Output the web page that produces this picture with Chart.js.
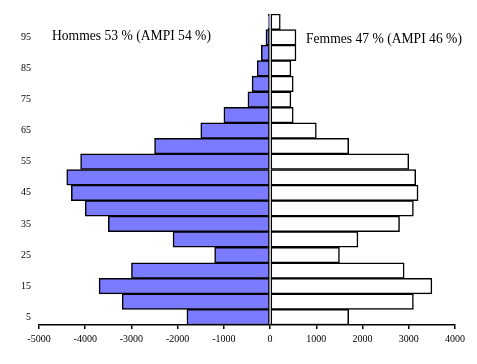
<!DOCTYPE html>
<html>
<head>
<meta charset="utf-8">
<script src="https://cdn.jsdelivr.net/npm/chart.js@4"></script>
<style>
  html, body { margin: 0; padding: 0; background: #fff; }
  #wrap { position: relative; width: 477px; height: 364px; }
</style>
</head>
<body>
<div id="wrap"><canvas id="myChart" width="477" height="364"></canvas></div>
<script>
// age groups, bottom to top
const ages = ['5', '10', '15', '20', '25', '30', '35', '40', '45', '50',
              '55', '60', '65', '70', '75', '80', '85', '90', '95', '100'];
const hommes = [-1800, -3200, -3700, -3000, -1200, -2100, -3500, -4000, -4300, -4400,
                -4100, -2500, -1500, -1000, -480, -390, -280, -190, -90, -40];
const femmes = [1700, 3100, 3500, 2900, 1500, 1900, 2800, 3100, 3200, 3150,
                3000, 1700, 1000, 500, 450, 500, 450, 560, 560, 220];
const xTicks = [-5000, -4000, -3000, -2000, -1000, 0, 1000, 2000, 3000, 4000];
const labelHommes = 'Hommes 53 % (AMPI 54 %)';
const labelFemmes = 'Femmes 47 % (AMPI 46 %)';

const legendText = {
  id: 'legendText',
  afterDraw(chart) {
    const c = chart.ctx;
    c.save();
    c.fillStyle = '#000';
    c.font = '13.6px "Liberation Serif", "Times New Roman", serif';
    c.textBaseline = 'alphabetic';
    c.fillText(labelHommes, 52, 40);
    c.fillText(labelFemmes, 306, 43);
    c.restore();
  }
};

const ctx = document.getElementById('myChart');
new Chart(ctx, {
  type: 'bar',
  data: {
    labels: ages,
    datasets: [
      {
        label: 'Hommes',
        data: hommes,
        backgroundColor: '#7b7bff',
        borderColor: '#000',
        borderWidth: 1.5,
        borderSkipped: false,
        categoryPercentage: 1,
        barPercentage: 1
      },
      {
        label: 'Femmes',
        data: femmes,
        backgroundColor: '#fff',
        borderColor: '#000',
        borderWidth: 1.5,
        borderSkipped: false,
        categoryPercentage: 1,
        barPercentage: 1
      }
    ]
  },
  options: {
    responsive: false,
    animation: false,
    indexAxis: 'y',
    layout: { padding: { left: 0, right: 22, top: 14, bottom: 0 } },
    plugins: {
      legend: { display: false },
      tooltip: { enabled: false }
    },
    scales: {
      x: {
        stacked: true,
        min: -5000,
        max: 4000,
        afterBuildTicks: (scale) => { scale.ticks = xTicks.map(v => ({ value: v })); },
        afterFit: (scale) => { scale.height = 39; },
        border: { display: true, color: '#000', width: 1.5 },
        grid: { display: true, drawOnChartArea: false, drawTicks: true, tickLength: 4, color: '#000', lineWidth: 1.5 },
        ticks: {
          color: '#000',
          padding: 4,
          maxRotation: 0,
          font: { family: '"Liberation Serif", serif', size: 10 },
          callback: (v) => String(v)
        }
      },
      y: {
        stacked: true,
        reverse: true,
        afterFit: (scale) => { scale.width = 39; },
        border: { display: false },
        grid: { display: false, drawTicks: false },
        ticks: {
          autoSkip: false,
          color: '#000',
          padding: 8,
          font: { family: '"Liberation Serif", serif', size: 10 },
          callback: (v, i) => (i % 2 === 0 ? ages[i] : '')
        }
      }
    }
  },
  plugins: [legendText]
});
</script>
</body>
</html>
